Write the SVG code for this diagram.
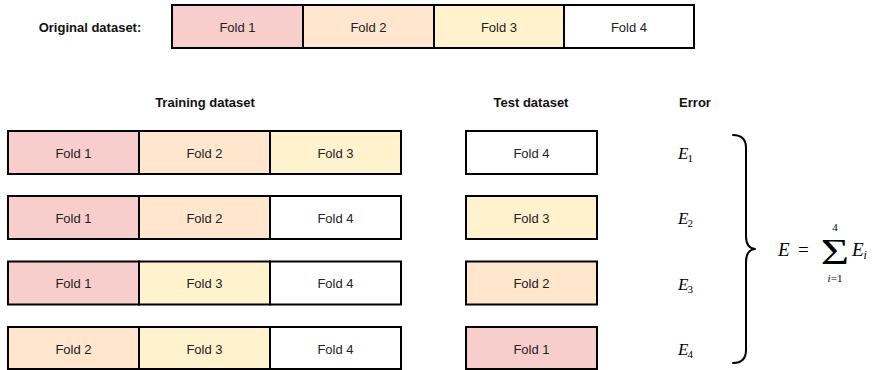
<svg xmlns="http://www.w3.org/2000/svg" width="879" height="370" viewBox="0 0 879 370">
  <style>
    .cell { stroke: #000; stroke-width: 2; }
    .f1 { fill: #f8cecc; }
    .f2 { fill: #ffe6cc; }
    .f3 { fill: #fff2cc; }
    .f4 { fill: #ffffff; }
    .lbl { font-family: "Liberation Sans", Arial, sans-serif; font-size: 13px; fill: #222; text-anchor: middle; dominant-baseline: central; }
    .head { font-family: "Liberation Sans", Arial, sans-serif; font-size: 13px; font-weight: bold; fill: #111; text-anchor: middle; dominant-baseline: central; }
    .math { font-family: "Liberation Serif", "DejaVu Serif", serif; font-style: italic; fill: #000; }
    .num { font-family: "Liberation Serif", "DejaVu Serif", serif; fill: #000; }
    .brace { fill: none; stroke: #000; stroke-width: 2; stroke-linecap: round; stroke-linejoin: round; }
  </style>

  <!-- original dataset -->
  <g id="original">
    <text class="head" x="90" y="27">Original dataset:</text>
    <rect class="cell f1" x="172" y="5" width="131" height="43"/>
    <text class="lbl" x="237.5" y="27">Fold 1</text>
    <rect class="cell f2" x="303" y="5" width="131" height="43"/>
    <text class="lbl" x="368.5" y="27">Fold 2</text>
    <rect class="cell f3" x="434" y="5" width="130" height="43"/>
    <text class="lbl" x="499" y="27">Fold 3</text>
    <rect class="cell f4" x="564" y="5" width="130" height="43"/>
    <text class="lbl" x="629" y="27">Fold 4</text>
  </g>

  <!-- column headers -->
  <g id="headers">
    <text class="head" x="205" y="102">Training dataset</text>
    <text class="head" x="531" y="102">Test dataset</text>
    <text class="head" x="695" y="102">Error</text>
  </g>

  <!-- split 1 -->
  <g id="split1">
    <rect class="cell f1" x="8" y="131" width="131" height="43"/>
    <text class="lbl" x="73.5" y="153">Fold 1</text>
    <rect class="cell f2" x="139" y="131" width="131" height="43"/>
    <text class="lbl" x="204.5" y="153">Fold 2</text>
    <rect class="cell f3" x="270" y="131" width="131" height="43"/>
    <text class="lbl" x="335.5" y="153">Fold 3</text>
    <rect class="cell f4" x="466" y="131" width="131" height="43"/>
    <text class="lbl" x="531.5" y="153">Fold 4</text>
    <text class="math" x="678" y="159" font-size="17">E<tspan class="num" font-style="normal" font-size="11" dx="-1" dy="3">1</tspan></text>
  </g>

  <!-- split 2 -->
  <g id="split2">
    <rect class="cell f1" x="8" y="196" width="131" height="43"/>
    <text class="lbl" x="73.5" y="218">Fold 1</text>
    <rect class="cell f2" x="139" y="196" width="131" height="43"/>
    <text class="lbl" x="204.5" y="218">Fold 2</text>
    <rect class="cell f4" x="270" y="196" width="131" height="43"/>
    <text class="lbl" x="335.5" y="218">Fold 4</text>
    <rect class="cell f3" x="466" y="196" width="131" height="43"/>
    <text class="lbl" x="531.5" y="218">Fold 3</text>
    <text class="math" x="678" y="224" font-size="17">E<tspan class="num" font-style="normal" font-size="11" dx="-1" dy="3">2</tspan></text>
  </g>

  <!-- split 3 -->
  <g id="split3">
    <rect class="cell f1" x="8" y="261.5" width="131" height="43"/>
    <text class="lbl" x="73.5" y="283.5">Fold 1</text>
    <rect class="cell f3" x="139" y="261.5" width="131" height="43"/>
    <text class="lbl" x="204.5" y="283.5">Fold 3</text>
    <rect class="cell f4" x="270" y="261.5" width="131" height="43"/>
    <text class="lbl" x="335.5" y="283.5">Fold 4</text>
    <rect class="cell f2" x="466" y="261.5" width="131" height="43"/>
    <text class="lbl" x="531.5" y="283.5">Fold 2</text>
    <text class="math" x="678" y="290" font-size="17">E<tspan class="num" font-style="normal" font-size="11" dx="-1" dy="3">3</tspan></text>
  </g>

  <!-- split 4 -->
  <g id="split4">
    <rect class="cell f2" x="8" y="327" width="131" height="42"/>
    <text class="lbl" x="73.5" y="349">Fold 2</text>
    <rect class="cell f3" x="139" y="327" width="131" height="42"/>
    <text class="lbl" x="204.5" y="349">Fold 3</text>
    <rect class="cell f4" x="270" y="327" width="131" height="42"/>
    <text class="lbl" x="335.5" y="349">Fold 4</text>
    <rect class="cell f1" x="466" y="327" width="131" height="42"/>
    <text class="lbl" x="531.5" y="349">Fold 1</text>
    <text class="math" x="678" y="355" font-size="17">E<tspan class="num" font-style="normal" font-size="11" dx="-1" dy="3">4</tspan></text>
  </g>

  <!-- brace collecting the errors -->
  <g id="connectors">
    <path class="brace" d="M 733 135 Q 746 135 746 148 L 746 236 Q 746 248 755 249 Q 746 250 746 262 L 746 350 Q 746 363 733 363"/>
  </g>

  <!-- total error formula -->
  <g id="formula">
    <text class="math" x="778" y="256" font-size="19">E</text>
    <text class="num" x="798" y="256" font-size="19">=</text>
    <text class="num" font-size="36" text-anchor="middle" transform="translate(835 264) scale(1.35 1)">Σ</text>
    <text class="num" x="835" y="231" font-size="11" text-anchor="middle">4</text>
    <text class="num" x="835" y="282" font-size="11" text-anchor="middle"><tspan font-style="italic">i</tspan>=1</text>
    <text class="math" x="852" y="256" font-size="19">E<tspan font-size="12" dy="3">i</tspan></text>
  </g>
</svg>
